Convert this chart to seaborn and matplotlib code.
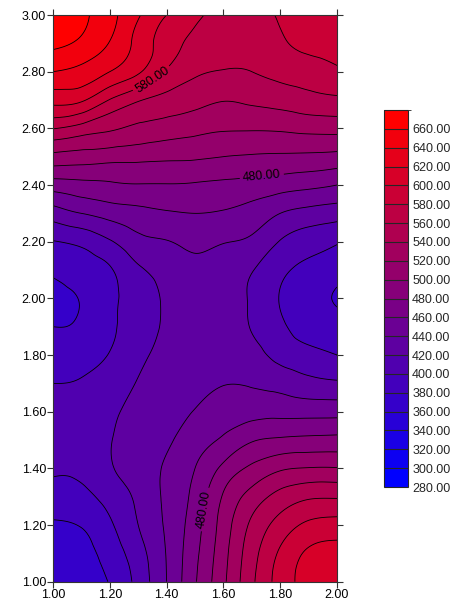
import numpy as np
import matplotlib
matplotlib.use("Agg")
import matplotlib.pyplot as plt
import matplotlib.tri as mtri
from matplotlib.colors import ListedColormap, BoundaryNorm
import seaborn as sns

# grid coordinates
x_values = [1.0, 1.1, 1.2, 1.3, 1.4, 1.5, 1.6, 1.7, 1.8, 1.9, 2.0]
y_values = [1.0, 1.1, 1.2, 1.3, 1.4, 1.5, 1.6, 1.7, 1.8, 1.9, 2.0,
            2.1, 2.2, 2.3, 2.4, 2.5, 2.6, 2.7, 2.8, 2.9, 3.0]

# surface values, one list per row (y), left to right along x
z_100 = [366, 373, 381, 407, 440, 478, 516, 556, 588, 608, 614]
z_110 = [370, 374, 388, 412, 441, 475, 513, 552, 583, 603, 607]
z_120 = [378, 381, 397, 420, 443, 471, 509, 544, 568, 584, 588]
z_130 = [390, 394, 408, 424, 444, 466, 502, 528, 547, 557, 558]
z_140 = [404, 405, 418, 429, 443, 460, 485, 504, 517, 521, 521]
z_150 = [411, 410, 419, 429, 437, 451, 463, 478, 483, 485, 486]
z_160 = [408, 408, 417, 425, 434, 441, 451, 453, 454, 453, 453]
z_170 = [400, 402, 411, 421, 430, 434, 439, 438, 433, 426, 423]
z_180 = [390, 391, 401, 415, 426, 431, 431, 426, 414, 406, 400]
z_190 = [380, 383, 397, 409, 423, 430, 428, 419, 404, 391, 386]
z_200 = [376, 381, 395, 409, 423, 431, 427, 418, 399, 385, 379]
z_210 = [382, 388, 398, 417, 427, 435, 430, 421, 405, 394, 386]
z_220 = [399, 405, 418, 434, 439, 445, 441, 436, 419, 409, 402]
z_230 = [430, 440, 448, 454, 458, 460, 458, 452, 440, 433, 429]
z_240 = [470, 474, 477, 479, 479, 478, 476, 473, 469, 465, 460]
z_250 = [514, 511, 508, 506, 504, 503, 500, 498, 497, 496, 494]
z_260 = [561, 552, 543, 536, 531, 526, 522, 522, 523, 526, 527]
z_270 = [607, 603, 579, 562, 553, 547, 541, 544, 548, 553, 556]
z_280 = [640, 634, 620, 603, 578, 563, 559, 560, 566, 571, 577]
z_290 = [664, 656, 639, 614, 589, 575, 568, 567, 577, 585, 588]
z_300 = [676, 665, 646, 622, 600, 584, 574, 573, 582, 590, 593]

# contour levels and colour-scale labels
levels = list(range(280, 700, 20))
bar_ticks = list(range(280, 680, 20))
labelled_levels = [480, 580]
label_spots = [(1.35, 2.77), (1.735, 2.435), (1.546, 1.253)]

Z = np.array([z_100, z_110, z_120, z_130, z_140, z_150, z_160, z_170, z_180,
              z_190, z_200, z_210, z_220, z_230, z_240, z_250, z_260, z_270,
              z_280, z_290, z_300], dtype=float)
X, Y = np.meshgrid(x_values, y_values)

# triangulate the regular grid and refine it with a smooth cubic surface
ny, nx = Z.shape
idx = np.arange(nx * ny).reshape(ny, nx)
a = idx[:-1, :-1].ravel()
b = idx[:-1, 1:].ravel()
c = idx[1:, 1:].ravel()
d = idx[1:, :-1].ravel()
triangles = np.concatenate([np.stack([a, b, c], 1), np.stack([a, c, d], 1)])
tri = mtri.Triangulation(X.ravel(), Y.ravel(), triangles)
interp = mtri.CubicTriInterpolator(tri, Z.ravel(), kind="min_E")
tri_f, z_f = mtri.UniformTriRefiner(tri).refine_field(
    Z.ravel(), triinterpolator=interp, subdiv=4)

sns.set_style("ticks")
plt.rcParams["font.family"] = ["Liberation Sans", "DejaVu Sans"]

W, H = 466, 608
fig = plt.figure(figsize=(W / 100, H / 100), dpi=100)
ax = fig.add_axes([53 / W, 1 - 581.7 / H, 284 / W, 566.7 / H])

colors = sns.blend_palette(["#0000ff", "#ff0000"], n_colors=len(levels) - 1)
cmap = ListedColormap(colors)
norm = BoundaryNorm(levels, cmap.N)

cf = ax.tricontourf(tri_f, z_f, levels=levels, cmap=cmap, norm=norm)
plain_levels = [v for v in levels if v not in labelled_levels]
ax.tricontour(tri_f, z_f, levels=plain_levels, colors="black",
              linewidths=0.6)
cs_lab = ax.tricontour(tri_f, z_f, levels=labelled_levels, colors="black",
                       linewidths=0.6)
ax.clabel(cs_lab, fmt="%.2f", manual=label_spots, inline=True,
          inline_spacing=3, fontsize=9, colors="black")

ax.set_xlim(1, 2)
ax.set_ylim(1, 3)
ax.set_xticks(np.arange(1.0, 2.001, 0.2))
ax.set_yticks(np.arange(1.0, 3.001, 0.2))
ax.xaxis.set_major_formatter("{x:.2f}")
ax.yaxis.set_major_formatter("{x:.2f}")
ax.tick_params(direction="out", length=4, width=0.8, top=True, right=True,
               labeltop=False, labelright=False, labelsize=9, pad=1,
               colors="#333333", labelcolor="black")
for s in ax.spines.values():
    s.set_linewidth(0.8)
    s.set_color("#333333")

cax = fig.add_axes([384 / W, 1 - 487 / H, 24 / W, 377 / H])
cb = fig.colorbar(cf, cax=cax, ticks=bar_ticks, drawedges=True)
cb.ax.yaxis.set_major_formatter("{x:.2f}")
cb.ax.tick_params(length=0, pad=3, labelsize=9)
cb.outline.set_linewidth(0.8)
cb.dividers.set_linewidth(0.8)

fig.savefig("out.png", dpi=100)
